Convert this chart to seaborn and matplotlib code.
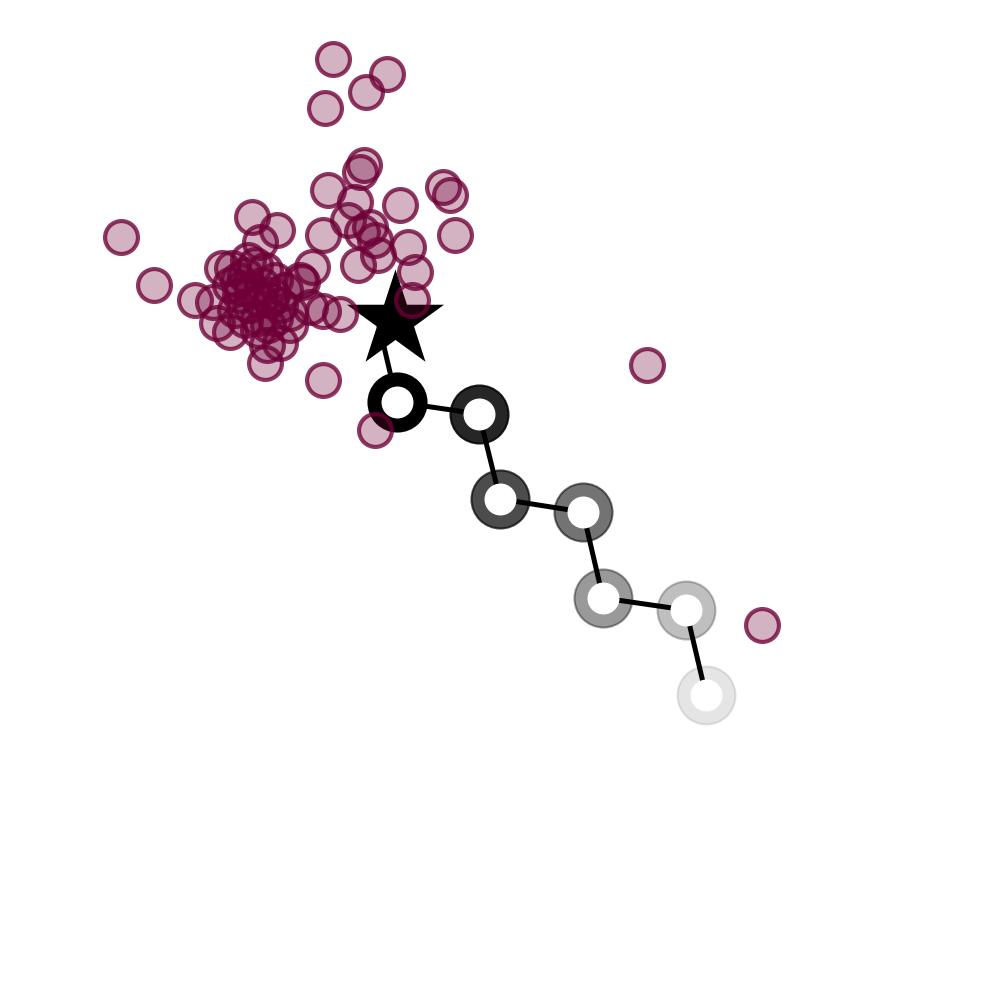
import matplotlib
matplotlib.use("Agg")
import matplotlib.pyplot as plt
import pandas as pd
import numpy as np
import seaborn as sns

# purple sample points (x, y)
pts_x = [3.33, 3.87, 3.66, 3.25, 3.64, 3.60, 3.28, 4.43, 4.50, 4.00, 3.55, 4.55,
         3.23, 3.48, 3.70, 3.62, 3.75, 3.78, 4.08, 3.58, 4.15, 3.12, 4.12, 3.02,
         1.21, 1.54, 2.52, 2.77, 2.60, 2.32, 2.22, 1.95, 2.13, 2.17, 2.30,
         2.65, 2.80, 2.67, 2.90, 3.00, 3.23, 3.40, 3.10,
         3.23, 3.75, 6.47, 7.62,
         2.45, 2.55, 2.62, 2.40, 2.50, 2.70, 2.58, 2.45, 2.75, 2.85, 2.65, 2.38,
         2.52, 2.68, 2.80, 2.48, 2.60, 2.75, 2.35, 2.90, 2.42, 2.58, 2.72, 2.30]
pts_y = [9.41, 9.26, 9.08, 8.92, 8.35, 8.28, 8.10, 8.13, 8.05, 7.95, 7.98, 7.65,
         7.65, 7.80, 7.73, 7.68, 7.60, 7.45, 7.53, 7.35, 7.28, 7.33, 7.00, 7.18,
         7.63, 7.15, 7.83, 7.70, 7.58, 7.32, 7.32, 7.00, 6.98, 6.77, 6.68,
         6.37, 6.57, 6.55, 6.87, 7.20, 6.89, 6.86, 6.93,
         6.20, 5.70, 6.35, 3.75,
         7.25, 7.35, 7.15, 7.05, 6.95, 7.00, 6.82, 6.80, 6.82, 7.10, 7.30, 7.20,
         7.10, 6.75, 6.95, 7.40, 7.00, 7.20, 6.90, 6.75, 7.12, 6.70, 7.05, 7.15]

# optimisation path: start point, then the visited steps
path_x = [3.77, 3.97, 4.79, 5.00, 5.83, 6.03, 6.86, 7.06]
path_y = [6.83, 5.98, 5.86, 5.01, 4.88, 4.02, 3.90, 3.05]
step_alpha = [1.0, 0.85, 0.70, 0.55, 0.40, 0.25, 0.10]

star_x = [3.95]
star_y = [6.80]

purple = (0.43, 0.0, 0.215)

df = pd.DataFrame({"x": pts_x, "y": pts_y})

fig = plt.figure(figsize=(10, 10), dpi=100)
ax = fig.add_axes([0, 0, 1, 1])

ax.plot(path_x, path_y, color="black", lw=3.6, zorder=1, solid_capstyle="butt")

for x, y, a in zip(path_x[1:], path_y[1:], step_alpha):
    ax.scatter([x], [y], s=1745, marker="o", facecolor=(0, 0, 0, a),
               edgecolor=(0, 0, 0, a), linewidth=1.5, zorder=2)
    ax.scatter([x], [y], s=530, marker="o", facecolor="white",
               linewidth=0, zorder=3)

ax.scatter(star_x, star_y, s=5400, marker="*", color="black", linewidth=0, zorder=4)

sns.scatterplot(data=df, x="x", y="y", ax=ax, s=560,
                facecolor=purple + (0.3,), edgecolor=purple + (0.78,),
                linewidth=3.0, zorder=5, legend=False)

ax.set_xlim(0, 10)
ax.set_ylim(0, 10)
ax.axis("off")

fig.savefig("out.png", dpi=100)
